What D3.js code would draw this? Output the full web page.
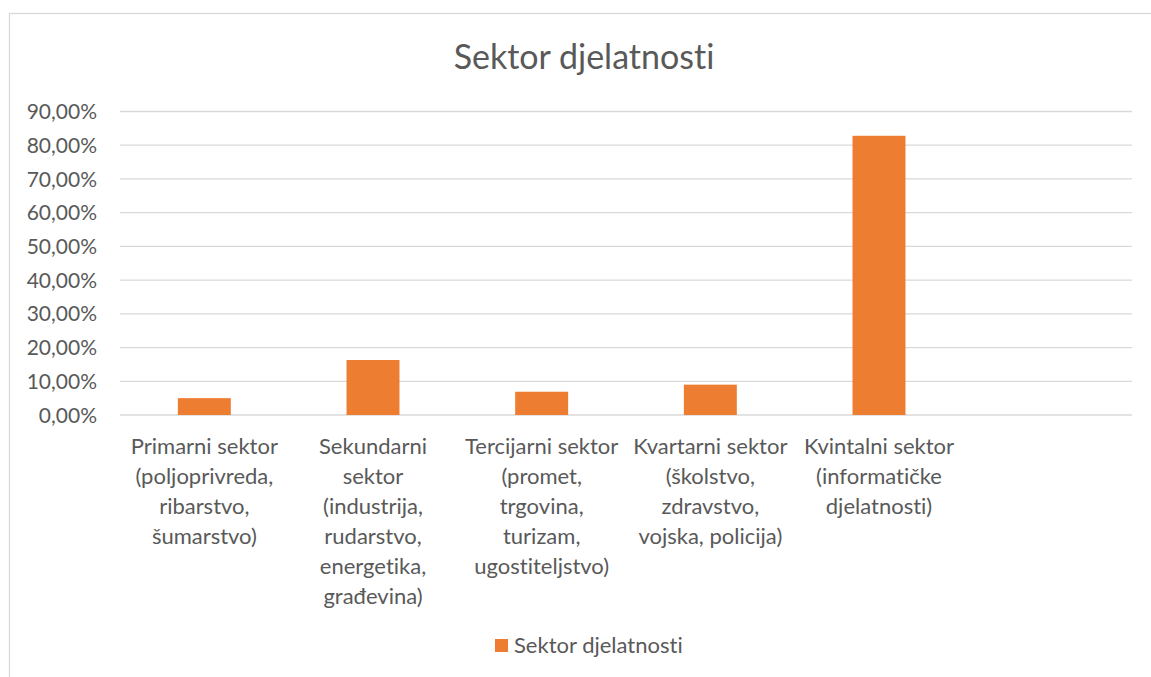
<!DOCTYPE html>
<html lang="hr">
<head>
<meta charset="utf-8">
<title>Sektor djelatnosti</title>
<script src="https://d3js.org/d3.v7.min.js"></script>
<style>
  body { margin: 0; background: #fff; }
  text { font-family: Lato, "Open Sans", sans-serif; fill: #595959; font-variant-ligatures: none; }
  .grid line { stroke: #d9d9d9; stroke-width: 1.3px; }
</style>
</head>
<body>
<script>
// data
var categories = ["Primarni", "Sekundarni", "Tercijarni", "Kvartarni", "Kvintalni", ""];
var labelLines = [
  ["Primarni sektor", "(poljoprivreda,", "ribarstvo,", "šumarstvo)"],
  ["Sekundarni", "sektor", "(industrija,", "rudarstvo,", "energetika,", "građevina)"],
  ["Tercijarni sektor", "(promet,", "trgovina,", "turizam,", "ugostiteljstvo)"],
  ["Kvartarni sektor", "(školstvo,", "zdravstvo,", "vojska, policija)"],
  ["Kvintalni sektor", "(informatičke", "djelatnosti)"],
  []
];
var values = [5.0, 16.3, 6.9, 9.0, 82.8];
var yTicks = [0, 10, 20, 30, 40, 50, 60, 70, 80, 90];
var seriesName = "Sektor djelatnosti";

var w = 1151, h = 677;
var margin = {left: 120, right: 19, top: 111.5, bottom: 262};

var svg = d3.select("body").append("svg")
  .attr("width", w)
  .attr("height", h);

// chart frame
svg.append("rect")
  .attr("x", 9.5).attr("y", 13.5)
  .attr("width", w + 20).attr("height", h + 20)
  .attr("fill", "none")
  .attr("stroke", "#d9d9d9")
  .attr("stroke-width", 1.3);

var x = d3.scaleBand()
  .domain(d3.range(categories.length))
  .range([margin.left, w - margin.right])
  .padding(0);

var y = d3.scaleLinear()
  .domain([0, 90])
  .range([h - margin.bottom, margin.top]);

//gridlines
svg.append("g").attr("class", "grid")
  .selectAll("line")
  .data(yTicks)
  .enter().append("line")
  .attr("x1", margin.left)
  .attr("x2", w - margin.right)
  .attr("y1", function(d) { return y(d); })
  .attr("y2", function(d) { return y(d); });

//y axis labels
var fmt = function(d) { return d.toFixed(2).replace(".", ",") + "%"; };
svg.append("g")
  .selectAll("text")
  .data(yTicks)
  .enter().append("text")
  .attr("x", 97)
  .attr("y", function(d) { return y(d); })
  .attr("dy", "0.36em")
  .attr("text-anchor", "end")
  .style("font-size", "21px")
  .text(fmt);

//bars
var barW = x.bandwidth() * 0.314;
svg.append("g")
  .selectAll("rect")
  .data(values)
  .enter().append("rect")
  .attr("x", function(d, i) { return x(i) + x.bandwidth() / 2 - barW / 2; })
  .attr("y", function(d) { return y(d); })
  .attr("width", barW)
  .attr("height", function(d) { return y(0) - y(d); })
  .attr("fill", "#ed7d31");

//category labels
var cat = svg.append("g")
  .selectAll("text")
  .data(labelLines)
  .enter().append("text")
  .attr("text-anchor", "middle")
  .style("font-size", "22px")
  .attr("transform", function(d, i) {
    return "translate(" + (x(i) + x.bandwidth() / 2) + "," + 454 + ")";
  });
cat.selectAll("tspan")
  .data(function(d) { return d; })
  .enter().append("tspan")
  .attr("x", 0)
  .attr("y", function(d, i) { return i * 30; })
  .text(function(d) { return d; });

//title
svg.append("text")
  .attr("x", 584)
  .attr("y", 69)
  .attr("text-anchor", "middle")
  .style("font-size", "34px")
  .text(seriesName);

//legend
var legend = svg.append("g").attr("transform", "translate(495,639)");
legend.append("rect")
  .attr("width", 13).attr("height", 13)
  .attr("fill", "#ed7d31");
legend.append("text")
  .attr("x", 19)
  .attr("y", 14)
  .style("font-size", "22px")
  .text(seriesName);
</script>
</body>
</html>
